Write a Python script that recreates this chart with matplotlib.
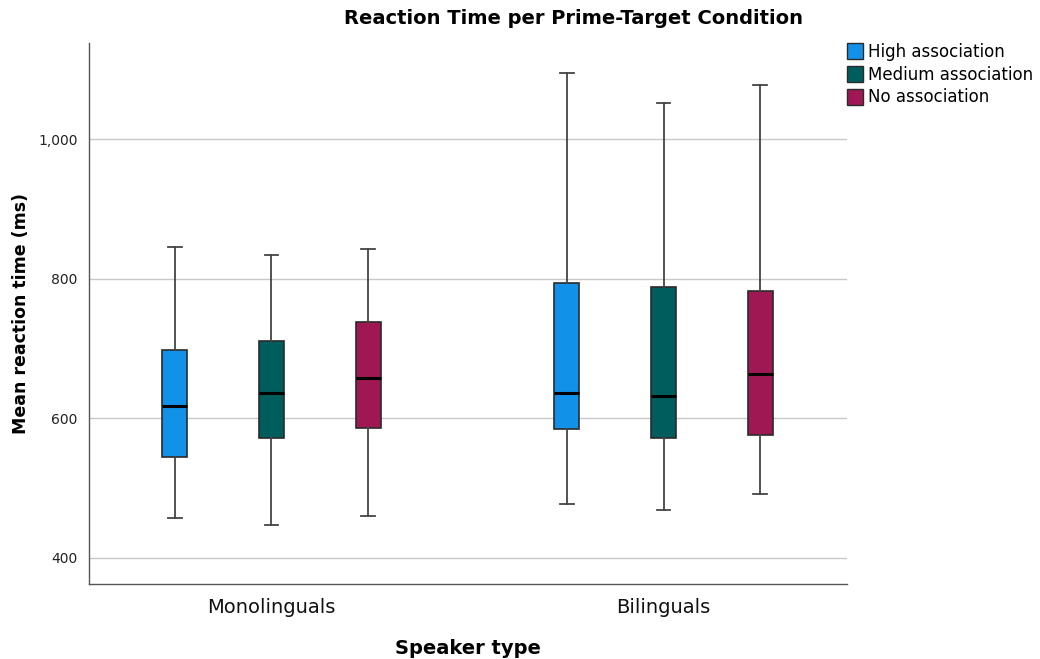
import matplotlib
matplotlib.use("Agg")
import matplotlib.pyplot as plt
from matplotlib.patches import Patch

groups = ["Monolinguals", "Bilinguals"]
conditions = ["High association", "Medium association", "No association"]
colors = ["#1192e8", "#005d5d", "#9f1853"]

# per condition, per group: [whislo, q1, median, q3, whishi]
high_stats = [[457, 544, 618, 697, 845], [477, 585, 636, 794, 1095]]
medium_stats = [[447, 571, 636, 711, 834], [469, 571, 632, 788, 1052]]
none_stats = [[460, 586, 657, 738, 843], [492, 576, 664, 782, 1077]]
all_stats = [high_stats, medium_stats, none_stats]

y_ticks = [400, 600, 800, 1000]
y_tick_labels = ["400", "600", "800", "1,000"]

fig = plt.figure(figsize=(10.4, 6.59), dpi=100)
ax = fig.add_axes([0.0853, 0.1134, 0.7288, 0.8218])

offsets = [-0.2467, 0.0, 0.2467]
width = 0.064
for ci, stats in enumerate(all_stats):
    bstats = []
    for gi, s in enumerate(stats):
        bstats.append(dict(whislo=s[0], q1=s[1], med=s[2], q3=s[3], whishi=s[4], fliers=[]))
    pos = [gi + offsets[ci] for gi in range(len(groups))]
    ax.bxp(bstats, positions=pos, widths=width, patch_artist=True, showfliers=False,
           boxprops=dict(facecolor=colors[ci], edgecolor="#2b2b2b", linewidth=1.2),
           medianprops=dict(color="black", linewidth=2.2),
           whiskerprops=dict(color="#444444", linewidth=1.3),
           capprops=dict(color="#444444", linewidth=1.3),
           capwidths=width * 0.55, zorder=3)

ax.set_xlim(-0.466, 1.467)
ax.set_ylim(362, 1138)
ax.set_yticks(y_ticks)
ax.set_yticklabels(y_tick_labels, fontsize=10, color="#222222")
ax.set_xticks(range(len(groups)))
ax.set_xticklabels(groups, fontsize=14, color="#111111")
ax.tick_params(axis="both", length=0, pad=8)
ax.tick_params(axis="x", pad=10)
ax.grid(axis="y", color="#c8c8c8", linewidth=1.0, zorder=0)
ax.set_axisbelow(True)
for side in ["top", "right"]:
    ax.spines[side].set_visible(False)
for side in ["left", "bottom"]:
    ax.spines[side].set_color("#555555")
    ax.spines[side].set_linewidth(1.0)

ax.set_ylabel("Mean reaction time (ms)", fontsize=12.5, fontweight="bold", labelpad=4)
ax.yaxis.set_label_coords(-0.077, 0.5)
ax.set_xlabel("Speaker type", fontsize=14, fontweight="bold", labelpad=16)
fig.text(0.551, 0.972, "Reaction Time per Prime-Target Condition", ha="center", va="center",
         fontsize=14, fontweight="bold")

handles = [Patch(facecolor=c, edgecolor="#2b2b2b", label=l) for c, l in zip(colors, conditions)]
fig.legend(handles=handles, loc="upper left", bbox_to_anchor=(0.814, 0.935), frameon=False,
           fontsize=12, handlelength=1.0, handleheight=1.1, handletextpad=0.3,
           labelspacing=0.28, borderaxespad=0, borderpad=0)

fig.savefig("out.png", dpi=100)
